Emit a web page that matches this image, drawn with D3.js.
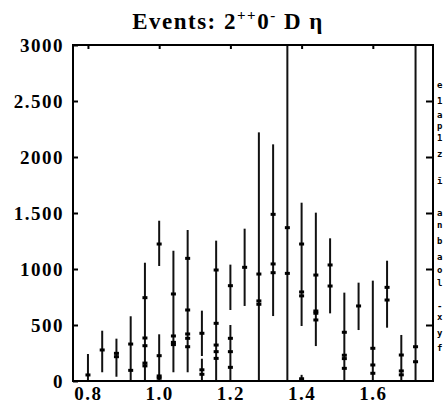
<!DOCTYPE html>
<meta charset="utf-8">
<style>
    body { margin: 0; background: #fff; }
    .tick-label { font: bold 19px "Liberation Serif", serif; letter-spacing: 1.5px; fill: #000; }
    .title { font: bold 23px "Liberation Serif", serif; letter-spacing: 1.5px; fill: #000; }
    .side { font: bold 9px "DejaVu Sans Mono", monospace; fill: #000; }
    .err { stroke: #111; stroke-width: 2px; }
    .pt { fill: #000; }
</style>
<svg id="svg" width="445" height="409"></svg>
<script src="https://d3js.org/d3.v7.min.js"></script>
<script>

// error bars: bin centre, lower end, upper end
var barX  = [0.80, 0.84, 0.88, 0.92, 0.96, 1.00, 1.00, 1.04, 1.08, 1.12, 1.12, 1.16, 1.20, 1.20,
             1.24, 1.28, 1.32, 1.36, 1.40, 1.40, 1.44, 1.48, 1.52, 1.56, 1.60, 1.64, 1.68, 1.72];
var barLo = [-140, 78, 38, -50, -50, 1027, -50, 78, 78, 223, -50, -50, 634, -50,
             670, -50, 580, -50, 491, -50, 312, 604, -50, 455, -50, 476, -50, -50];
var barHi = [241, 449, 378, 578, 1056, 1431, 417, 1163, 1348, 628, 199, 1253, 1039, 500,
             1360, 2220, 2113, 3300, 1592, 55, 1503, 1274, 789, 878, 896, 1074, 411, 3300];

// measured points (several solutions stacked on the same bins)
var ptX = [0.80, 0.84, 0.88, 0.88, 0.92, 0.92,
           0.96, 0.96, 0.96, 0.96, 0.96,
           1.00, 1.00, 1.00, 1.00,
           1.04, 1.04, 1.04, 1.04,
           1.08, 1.08, 1.08, 1.08, 1.08,
           1.12, 1.12, 1.12,
           1.16, 1.16, 1.16, 1.16, 1.16,
           1.20, 1.20, 1.20, 1.20,
           1.24, 1.28, 1.28, 1.28,
           1.32, 1.32, 1.32, 1.36, 1.36,
           1.40, 1.40, 1.40, 1.40,
           1.44, 1.44, 1.44, 1.44,
           1.48, 1.48,
           1.52, 1.52, 1.52, 1.52,
           1.56, 1.60, 1.60, 1.60,
           1.64, 1.64, 1.68, 1.68, 1.68, 1.72, 1.72];
var ptY = [54, 277, 247, 217, 330, 95,
           744, 384, 315, 160, 135,
           1223, 226, 45, 25,
           777, 402, 345, 325,
           1095, 634, 420, 381, 306,
           426, 100, 60,
           991, 515, 321, 262, 202,
           851, 381, 262, 122,
           1015, 955, 715, 685,
           1488, 1045, 967, 1369, 961,
           1223, 795, 760, 20,
           946, 625, 605, 545,
           1036, 848,
           435, 230, 200, 113,
           670, 292, 143, 69,
           836, 723, 232, 90, 55, 306, 172];

var yTicks = [0, 500, 1000, 1500, 2000, 2500, 3000];
var yTickLabels = ["0", "500", "1000", "1.500", "2000", "2.500", "3000"];
var xTicks = [0.8, 1.0, 1.2, 1.4, 1.6];
var xTickLabels = ["0.8", "1.0", "1.2", "1.4", "1.6"];

// cut-off legend column at the right edge
var sideText = ["e", "1", "a", "p", "1", "z", "\u012b", "a", "n", "b", "a", "o", "l", "-", "x", "y", "f"];
var sideY    = [84, 100, 114, 125, 137, 153, 180, 212, 224, 240, 256, 269, 282, 305, 316, 332, 347];

var svg = d3.select("svg"),
    pLeft = 73, pRight = 433, pTop = 45, pBottom = 381;

var x = d3.scaleLinear().domain([0.758, 1.769]).range([pLeft, pRight]);
var y = d3.scaleLinear().domain([0, 3000]).range([pBottom, pTop]);

svg.append("clipPath").attr("id", "clip")
  .append("rect").attr("x", pLeft).attr("y", pTop)
  .attr("width", pRight - pLeft).attr("height", pBottom - pTop);

var plot = svg.append("g").attr("clip-path", "url(#clip)");

plot.selectAll(".err")
    .data(barX)
  .enter().append("line")
    .attr("class", "err")
    .attr("x1", function(d) { return x(d); })
    .attr("x2", function(d) { return x(d); })
    .attr("y1", function(d, i) { return y(barLo[i]); })
    .attr("y2", function(d, i) { return y(barHi[i]); });

plot.selectAll(".pt")
    .data(ptX)
  .enter().append("rect")
    .attr("class", "pt")
    .attr("x", function(d) { return x(d) - 2.5; })
    .attr("y", function(d, i) { return y(ptY[i]) - 1.5; })
    .attr("width", 5)
    .attr("height", 3);

// frame
svg.append("rect")
    .attr("x", pLeft).attr("y", pTop)
    .attr("width", pRight - pLeft).attr("height", pBottom - pTop)
    .attr("fill", "none").attr("stroke", "#000").attr("stroke-width", 2);

// ticks drawn inward on all sides
var yAxisL = d3.axisLeft(y).tickValues(yTicks).tickSize(-5)
    .tickFormat(function(d, i) { return yTickLabels[i]; }).tickPadding(9);
var gl = svg.append("g").attr("transform", "translate(" + pLeft + ",0)").call(yAxisL);
gl.select(".domain").remove();
gl.selectAll("line").attr("stroke-width", 2);
gl.selectAll("text").attr("class", "tick-label");

var yAxisR = d3.axisRight(y).tickValues(yTicks.slice(1, 6)).tickSize(-7).tickFormat("");
var gr = svg.append("g").attr("transform", "translate(" + pRight + ",0)").call(yAxisR);
gr.select(".domain").remove();
gr.selectAll("line").attr("stroke-width", 2);

var xAxisT = d3.axisTop(x).tickValues(xTicks).tickSize(-4).tickFormat("");
var gt = svg.append("g").attr("transform", "translate(0," + pTop + ")").call(xAxisT);
gt.select(".domain").remove();
gt.selectAll("line").attr("stroke-width", 2);

var xAxisB = d3.axisBottom(x).tickValues(xTicks).tickSize(0)
    .tickFormat(function(d, i) { return xTickLabels[i]; }).tickPadding(6);
var gb = svg.append("g").attr("transform", "translate(0," + pBottom + ")").call(xAxisB);
gb.select(".domain").remove();
gb.selectAll("text").attr("class", "tick-label");

svg.selectAll("g").attr("font-size", null).attr("font-family", null);

// title
var title = svg.append("text").attr("class", "title")
    .attr("x", 228).attr("y", 29).attr("text-anchor", "middle");
title.append("tspan").text("Events: 2");
title.append("tspan").attr("dy", -9).attr("font-size", 15).text("++");
title.append("tspan").attr("dy", 9).text("0");
title.append("tspan").attr("dy", -9).attr("font-size", 15).text("-");
title.append("tspan").attr("dy", 9).text(" D \u03b7");

svg.selectAll(".side")
    .data(sideText)
  .enter().append("text")
    .attr("class", "side")
    .attr("x", 437)
    .attr("y", function(d, i) { return sideY[i] + 4; })
    .text(function(d) { return d; });

</script>
